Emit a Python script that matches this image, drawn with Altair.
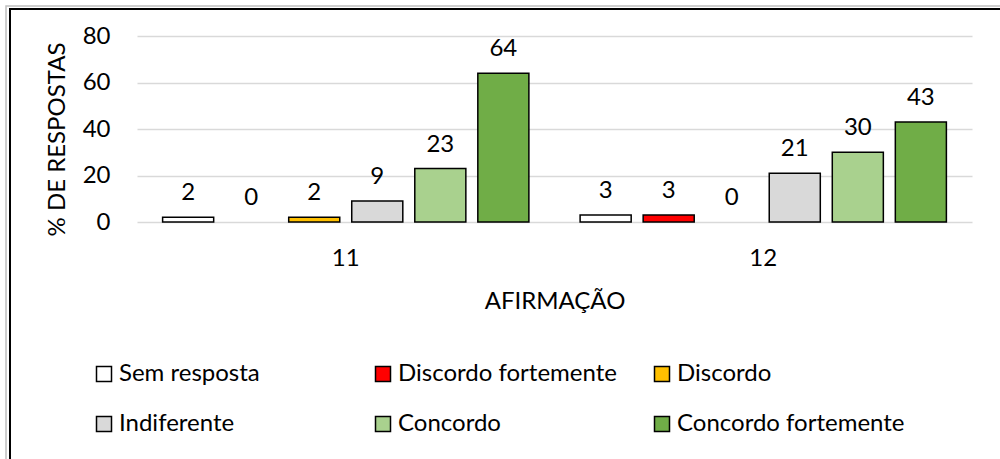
import altair as alt
import pandas as pd

afirmacoes = ["11", "12"]
categorias = ["Sem resposta", "Discordo fortemente", "Discordo",
              "Indiferente", "Concordo", "Concordo fortemente"]
valores_11 = [2, 0, 2, 9, 23, 64]
valores_12 = [3, 3, 0, 21, 30, 43]
cores = ["#FFFFFF", "#FF0000", "#FFC000", "#D9D9D9", "#A9D18E", "#70AD47"]
y_ticks = [0, 20, 40, 60, 80]

rows = []
for af, vals in zip(afirmacoes, [valores_11, valores_12]):
    for c, v in zip(categorias, vals):
        rows.append({"Afirmacao": af, "Categoria": c, "Valor": v})
df = pd.DataFrame(rows)

FONT = "Lato"
FS = 24

x_enc = alt.X("Afirmacao:N", sort=afirmacoes,
              scale=alt.Scale(paddingInner=0.094, paddingOuter=0.047),
              axis=alt.Axis(title="AFIRMAÇÃO", labelAngle=0, ticks=False, tickSize=0,
                            domain=False, labelPadding=24, labelFontSize=FS,
                            labelFont=FONT, labelColor="#000000", titleFont=FONT,
                            titleFontSize=FS, titleFontWeight="normal",
                            titleColor="#000000", titlePadding=19))
xo_enc = alt.XOffset("Categoria:N", sort=categorias,
                     scale=alt.Scale(paddingInner=0.19, paddingOuter=0.095))
y_enc = alt.Y("Valor:Q",
              scale=alt.Scale(domain=[0, 80], nice=False),
              axis=alt.Axis(title="% DE RESPOSTAS", values=y_ticks, ticks=False,
                            tickSize=0, domain=False, labelPadding=27,
                            labelFontSize=FS, labelFont=FONT, labelColor="#000000",
                            gridColor="#D9D9D9", gridWidth=1.5,
                            titleFont=FONT, titleFontSize=FS,
                            titleFontWeight="normal", titleColor="#000000",
                            titleX=-80, titleY=103, titleBaseline="middle",
                            titleAlign="center"))
color_enc = alt.Color("Categoria:N", sort=categorias,
                      scale=alt.Scale(domain=categorias, range=cores),
                      legend=alt.Legend(title=None, orient="none", legendX=-45,
                                        legendY=326, columns=3, direction="horizontal",
                                        gridAlign="all", columnPadding=24,
                                        rowPadding=26, padding=0,
                                        symbolType="square", symbolSize=225,
                                        symbolStrokeColor="#000000",
                                        symbolStrokeWidth=1.5, symbolOpacity=1,
                                        labelFont=FONT, labelFontSize=FS,
                                        labelColor="#000000", labelLimit=400,
                                        labelOffset=3))

base = alt.Chart(df)

bars = base.mark_bar(stroke="#000000", strokeWidth=1.5, opacity=1).encode(
    x=x_enc, xOffset=xo_enc, y=y_enc, color=color_enc
).transform_filter("datum.Valor > 0")

labels = base.mark_text(font=FONT, fontSize=FS, color="#000000",
                        baseline="alphabetic", dy=-17).encode(
    x=alt.X("Afirmacao:N", sort=afirmacoes),
    xOffset=alt.XOffset("Categoria:N", sort=categorias),
    y=alt.Y("Valor:Q"),
    text=alt.Text("Valor:Q")
)

frame_data = alt.Data(values=[{"k": 1}])
frame_gray = alt.Chart(frame_data).mark_rect(
    fillOpacity=0, stroke="#BFBFBF", strokeWidth=1.5).encode(
    x=alt.value(-131), x2=alt.value(900), y=alt.value(-30), y2=alt.value(460))
frame_black = alt.Chart(frame_data).mark_rect(
    fillOpacity=0, stroke="#000000", strokeWidth=2).encode(
    x=alt.value(-127), x2=alt.value(900), y=alt.value(-27), y2=alt.value(460))

chart = alt.layer(frame_gray, frame_black, bars, labels).properties(
    width=835, height=186,
    autosize=alt.AutoSizeParams(type="none"),
    padding={"left": 137, "top": 36, "right": 28, "bottom": 237},
    background="#FFFFFF"
).configure_view(stroke=None).resolve_scale(x="shared")

chart.save("out.html", embed_options={"renderer": "svg", "actions": False})
